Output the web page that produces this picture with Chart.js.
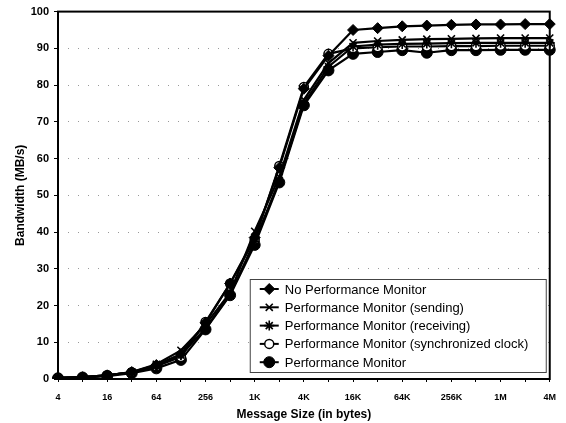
<!DOCTYPE html>
<html>
<head>
<meta charset="utf-8">
<script src="https://cdn.jsdelivr.net/npm/chart.js@4/dist/chart.umd.min.js"></script>
<style>
  html, body { margin: 0; padding: 0; background: #fff; }
  #wrap { width: 566px; height: 423px; }
</style>
</head>
<body>
<div id="wrap"><canvas id="c" width="566" height="423"></canvas></div>
<script>
// Message sizes (bytes) on the x axis
const sizes = ['4','8','16','32','64','128','256','512','1K','2K','4K','8K','16K','32K','64K','128K','256K','512K','1M','2M','4M'];

// Bandwidth in MB/s for each configuration
const noMonitor   = [0.3,0.5,1.0,1.9,3.8,6.8,15.3,26.0,38.5,57.5,79.0,88.0,95.0,95.5,96.0,96.2,96.4,96.5,96.5,96.6,96.6];
const sendingMon  = [0.3,0.5,1.0,1.9,4.0,7.8,14.8,23.5,40.2,55.0,76.0,86.0,91.5,92.0,92.3,92.5,92.6,92.7,92.8,92.8,92.8];
const receivingMon= [0.3,0.5,1.0,1.8,3.6,6.5,13.8,23.0,37.5,54.0,75.0,85.0,90.5,91.0,91.2,91.3,91.4,91.5,91.5,91.5,91.5];
const syncClockMon= [0.3,0.5,1.0,1.8,3.5,6.0,15.5,26.0,38.0,58.0,79.5,88.5,90.0,90.3,90.5,90.5,90.6,90.6,90.7,90.7,90.7];
const fullMonitor = [0.2,0.4,0.8,1.6,2.9,5.2,13.5,22.8,36.5,53.5,74.5,84.0,88.5,89.0,89.5,88.8,89.5,89.5,89.6,89.6,89.6];

const seriesLabels = [
  'No Performance Monitor',
  'Performance Monitor (sending)',
  'Performance Monitor (receiving)',
  'Performance Monitor (synchronized clock)',
  'Performance Monitor'
];

const FONT = '"Liberation Sans", Arial, sans-serif';

function series(label, data, style, radius, bg, bw) {
  return {
    label, data,
    borderColor: '#000',
    backgroundColor: bg,
    borderWidth: 2.2,
    pointStyle: style,
    pointRadius: radius,
    pointHoverRadius: radius,
    pointBorderColor: '#000',
    pointBackgroundColor: bg,
    pointBorderWidth: bw,
    tension: 0,
    fill: false
  };
}

const datasets = [
  series(seriesLabels[0], noMonitor,    'rectRot',  5.5, '#000', 1),
  series(seriesLabels[1], sendingMon,   'crossRot', 5,   '#000', 1.6),
  series(seriesLabels[2], receivingMon, 'star',     5,   '#000', 1.6),
  series(seriesLabels[3], syncClockMon, 'circle',   4.5, '#fff', 1.5),
  series(seriesLabels[4], fullMonitor,  'circle',   5.5, '#000', 1)
];

// Frame around the plot area
const framePlugin = {
  id: 'frame',
  afterDatasetsDraw(chart) {
    const a = chart.chartArea, ctx = chart.ctx;
    ctx.save();
    ctx.strokeStyle = '#000';
    ctx.lineWidth = 2;
    ctx.strokeRect(a.left, a.top, a.right - a.left, a.bottom - a.top);
    ctx.restore();
  }
};

// Boxed legend drawn inside the lower right of the plot
const insideLegend = {
  id: 'insideLegend',
  afterDraw(chart) {
    const ctx = chart.ctx;
    const a = chart.chartArea;
    const boxW = 296, boxH = 93;
    const bx = a.right - 4 - boxW, by = a.bottom - 7 - boxH;
    ctx.save();
    ctx.fillStyle = '#fff';
    ctx.fillRect(bx, by, boxW, boxH);
    ctx.strokeStyle = '#444';
    ctx.lineWidth = 1;
    ctx.strokeRect(bx + 0.5, by + 0.5, boxW, boxH);
    ctx.font = '13px ' + FONT;
    ctx.textBaseline = 'middle';
    ctx.fillStyle = '#000';
    chart.data.datasets.forEach((ds, i) => {
      const y = by + 10 + i * 18.3;
      const x0 = bx + 10, x1 = bx + 29;
      ctx.strokeStyle = '#000';
      ctx.lineWidth = 2;
      ctx.beginPath();
      ctx.moveTo(x0, y);
      ctx.lineTo(x1, y);
      ctx.stroke();
      const opts = {
        pointStyle: ds.pointStyle,
        radius: ds.pointRadius,
        borderWidth: ds.pointBorderWidth,
        rotation: 0
      };
      ctx.fillStyle = ds.pointBackgroundColor;
      ctx.strokeStyle = '#000';
      ctx.lineWidth = ds.pointBorderWidth;
      Chart.helpers.drawPoint(ctx, opts, (x0 + x1) / 2, y);
      ctx.fillStyle = '#000';
      ctx.fillText(ds.label, bx + 35, y + 1);
    });
    ctx.restore();
  }
};

new Chart(document.getElementById('c'), {
  type: 'line',
  data: { labels: sizes, datasets },
  plugins: [framePlugin, insideLegend],
  options: {
    responsive: false,
    animation: false,
    layout: { padding: { top: 11, right: 10, left: 0, bottom: 0 } },
    plugins: {
      legend: { display: false },
      tooltip: { enabled: false }
    },
    scales: {
      x: {
        offset: false,
        afterFit(scale) { scale.height = 44; },
        border: { display: false },
        grid: { display: true, drawOnChartArea: false, tickLength: 3, color: '#000', tickBorderDash: [] },
        ticks: {
          autoSkip: false,
          maxRotation: 0,
          minRotation: 0,
          padding: 10,
          color: '#000',
          font: { family: FONT, size: 9, weight: 'bold' },
          callback(v, i) { return i % 2 === 0 ? sizes[i] : ''; }
        },
        title: {
          display: true,
          text: 'Message Size (in bytes)',
          color: '#000',
          font: { family: FONT, size: 12, weight: 'bold' },
          padding: { top: 0, bottom: 1 }
        }
      },
      y: {
        min: 0,
        max: 100,
        afterFit(scale) { scale.width = 58; },
        // dotted horizontal gridlines (v4 takes the gridline dash from border.dash)
        border: { display: false, dash: [1, 9] },
        grid: {
          color: '#999',
          lineWidth: 1,
          tickLength: 4,
          tickColor: '#000',
          tickBorderDash: [],
          drawTicks: true
        },
        ticks: {
          stepSize: 10,
          padding: 5,
          color: '#000',
          font: { family: FONT, size: 11, weight: 'bold' }
        },
        title: {
          display: true,
          text: 'Bandwidth (MB/s)',
          color: '#000',
          font: { family: FONT, size: 12, weight: 'bold' },
          padding: { top: 13, bottom: 0 }
        }
      }
    }
  }
});
</script>
</body>
</html>
